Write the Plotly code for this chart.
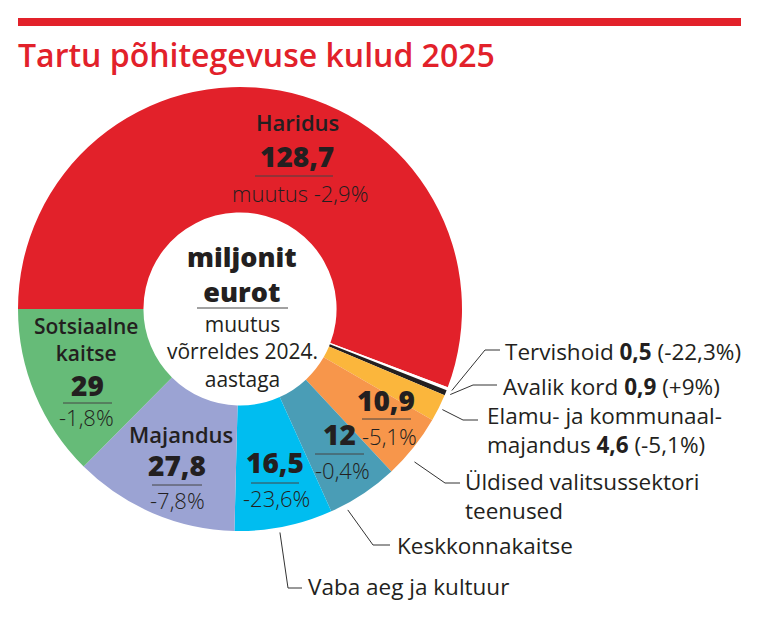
import math
import plotly.graph_objects as go

# ---------------- data ----------------
categories = ["Haridus", "Tervishoid", "Avalik kord", "Elamu- ja kommunaalmajandus",
              "Üldised valitsussektori teenused", "Keskkonnakaitse",
              "Vaba aeg ja kultuur", "Majandus", "Sotsiaalne kaitse"]
values = [128.7, 0.5, 0.9, 4.6, 10.9, 12, 16.5, 27.8, 29]
value_labels = ["128,7", "0,5", "0,9", "4,6", "10,9", "12", "16,5", "27,8", "29"]
changes = ["-2,9%", "-22,3%", "+9%", "-5,1%", "-5,1%", "-0,4%", "-23,6%", "-7,8%", "-1,8%"]
colors = ["#e2212a", "#ffffff", "#231f20", "#fbb63c", "#f7964b", "#4a9db6",
          "#00bdf0", "#9ba3d3", "#66bb78"]

# ---------------- layout constants ----------------
W, H = 768, 620
OFF = 8  # page body margin
CX, CY, R = 240, 309, 222
HOLE = 0.435
DARK = "#231f20"
RED = "#e2212a"
FONT = "Open Sans"
S_NAME, S_NUM, S_CHG, S_OUT = 22, 28, 22, 22.5

fig = go.Figure()

fig.add_trace(go.Pie(
    labels=categories, values=values, sort=False, direction="clockwise",
    rotation=-90, hole=HOLE, textinfo="none", hoverinfo="label+value",
    marker=dict(colors=colors, line=dict(width=0)),
    domain=dict(x=[(CX - R - OFF) / W, (CX + R - OFF) / W],
                y=[1 - (CY + R - OFF) / H, 1 - (CY - R - OFF) / H]),
    showlegend=False,
))

# slice angles (compass degrees, clockwise from 12 o'clock), start at 9 o'clock
total = sum(values)
starts, ends = [], []
acc = 0.0
for v in values:
    a0 = 270 + acc / total * 360
    acc += v
    a1 = 270 + acc / total * 360
    starts.append(a0)
    ends.append(a1)


def pt(angle, r):
    a = math.radians(angle)
    return CX + r * math.sin(a), CY - r * math.cos(a)


# leader lines: index -> (fraction within slice, radius, elbow x, elbow y, end x)
leaders = {
    1: (0.5, 227, 485, 350, 500),
    2: (0.5, 227, 473, 385, 497),
    3: (0.5, 226, 463, 420, 478),
    4: (0.66, 232, 445, 483, 460),
    5: (0.79, 228, 373, 545, 390),
    6: (0.55, 227, 288, 588, 302),
}
lx, ly = [], []
for i, (frac, r, ex, ey, endx) in leaders.items():
    a = starts[i] + frac * (ends[i] - starts[i])
    x0, y0 = pt(a, r)
    lx += [x0, ex, endx, None]
    ly += [y0, ey, ey, None]
fig.add_trace(go.Scatter(x=lx, y=ly, mode="lines", line=dict(color="#333333", width=1),
                         hoverinfo="skip", showlegend=False))

annotations = []
shapes = []


def txt(x, y, text, size, weight=400, color=DARK, xanchor="center", family=FONT):
    annotations.append(dict(x=x, y=y, xref="x", yref="y", text=text, showarrow=False,
                            xanchor=xanchor, yanchor="middle", align=xanchor if xanchor != "center" else "center",
                            font=dict(family=family, size=size, color=color, weight=weight)))


def uline(x0, x1, y):
    shapes.append(dict(type="line", xref="x", yref="y", x0=x0, x1=x1, y0=y, y1=y,
                       line=dict(color="#444444", width=1)))


# title + bar
shapes.append(dict(type="rect", xref="x", yref="y", x0=18, x1=741, y0=18, y1=26,
                   fillcolor=RED, line=dict(width=0)))
txt(16, 54, "Tartu põhitegevuse kulud 2025", 32, 600, RED, "left")

# Haridus
txt(297, 122, categories[0], S_NAME, 600)
txt(297, 156, value_labels[0], S_NUM, 800)
uline(255, 333, 176)
txt(300, 193, "muutus " + changes[0], S_CHG, 300)

# center
txt(242, 274, "miljonit<br>eurot", 27, 800)
uline(197, 288, 308)
txt(242, 351, "muutus<br>võrreldes 2024.<br>aastaga", 21, 400)

# Sotsiaalne kaitse
txt(86, 339, "Sotsiaalne<br>kaitse", 21, 600)
txt(87, 385, value_labels[8], S_NUM, 800)
uline(63, 112, 403)
txt(86, 417, changes[8], S_CHG, 300)

# Majandus
txt(181, 434, categories[7], S_NAME, 600)
txt(177, 465, value_labels[7], S_NUM, 800)
uline(152, 202, 485)
txt(177, 500, changes[7], S_CHG, 300)

# Vaba aeg
txt(275, 462, value_labels[6], S_NUM, 800)
uline(251, 299, 483)
txt(276, 498, changes[6], S_CHG, 300)

# Keskkonnakaitse
txt(339, 434, value_labels[5], S_NUM, 800)
uline(315, 364, 454)
txt(342, 470, changes[5], S_CHG, 300)

# Üldised
txt(386, 400, value_labels[4], S_NUM, 800)
uline(362, 411, 419)
txt(389, 436, changes[4], S_CHG, 300)

# outside labels
txt(503, 351, f"{categories[1]} <b>{value_labels[1]}</b> ({changes[1]})", S_OUT, 400, xanchor="left")
txt(501, 386, f"{categories[2]} <b>{value_labels[2]}</b> ({changes[2]})", S_OUT, 400, xanchor="left")
txt(485, 430, f"Elamu- ja kommunaal-<br>majandus <b>{value_labels[3]}</b> ({changes[3]})", S_OUT, 400, xanchor="left")
txt(463, 496, "Üldised valitsussektori<br>teenused", S_OUT, 400, xanchor="left")
txt(395, 545, categories[5], S_OUT, 400, xanchor="left")
txt(306, 586, categories[6], S_OUT, 400, xanchor="left")

fig.update_layout(
    width=W, height=H, autosize=False,
    margin=dict(l=0, r=0, t=0, b=0),
    paper_bgcolor="white", plot_bgcolor="rgba(0,0,0,0)",
    xaxis=dict(range=[OFF, W + OFF], visible=False, fixedrange=True, domain=[0, 1]),
    yaxis=dict(range=[H + OFF, OFF], visible=False, fixedrange=True, domain=[0, 1]),
    annotations=annotations, shapes=shapes,
    font=dict(family=FONT, color=DARK),
)

fig.write_html("out.html")
